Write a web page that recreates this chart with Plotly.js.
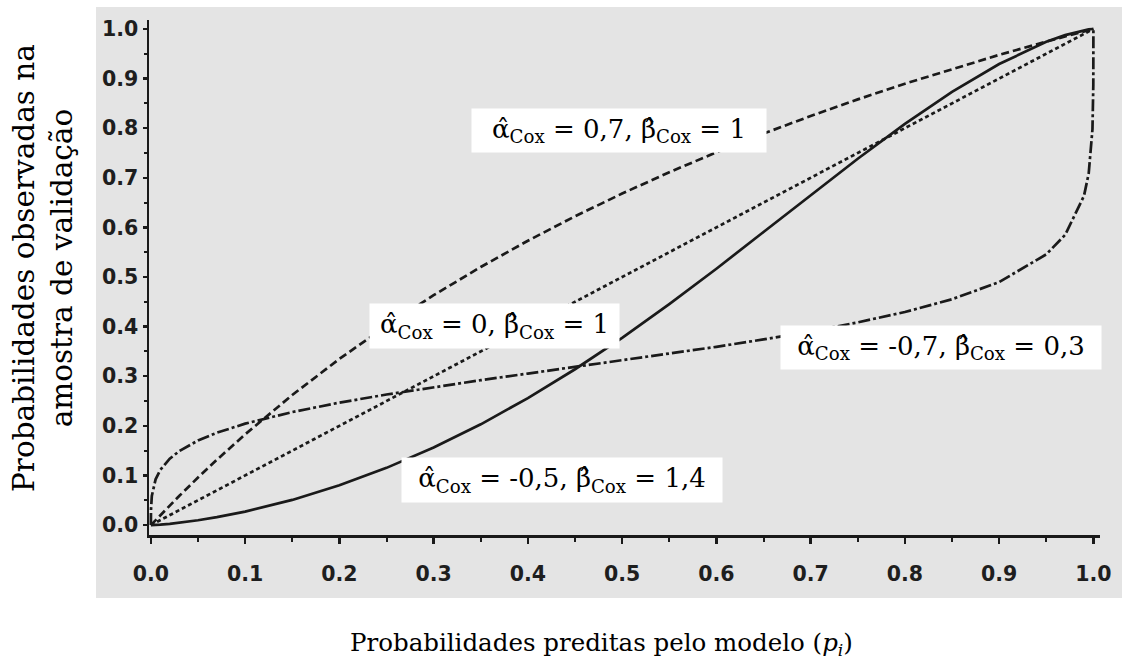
<!DOCTYPE html>
<html>
<head>
<meta charset="utf-8">
<script src="https://cdn.plot.ly/plotly-3.0.1.min.js"></script>
<style>html,body{margin:0;padding:0;background:#fff;}#chart{width:1129px;height:659px;}</style>
</head>
<body>
<div id="chart"></div>
<script>
// Predicted probabilities (x)
const predicted = [0, 0.0001, 0.001, 0.005, 0.01, 0.02, 0.03, 0.05, 0.07, 0.1, 0.15, 0.2, 0.25, 0.3, 0.35, 0.4, 0.45, 0.5, 0.55, 0.6, 0.65, 0.7, 0.75, 0.8, 0.85, 0.9, 0.95, 0.97, 0.99, 0.995, 0.999, 0.9999, 1];
// alpha = 0.7, beta = 1 (dashed)
const obsA = [0, 0.0002, 0.0020, 0.0100, 0.0199, 0.0395, 0.0586, 0.0958, 0.1316, 0.1828, 0.2622, 0.3349, 0.4017, 0.4633, 0.5202, 0.5731, 0.6223, 0.6682, 0.7111, 0.7513, 0.7890, 0.8245, 0.8580, 0.8896, 0.9194, 0.9477, 0.9745, 0.9849, 0.9950, 0.9975, 0.9995, 0.99995, 1];
// alpha = 0, beta = 1 (dotted)
const obsB = [0, 0.0001, 0.001, 0.005, 0.01, 0.02, 0.03, 0.05, 0.07, 0.1, 0.15, 0.2, 0.25, 0.3, 0.35, 0.4, 0.45, 0.5, 0.55, 0.6, 0.65, 0.7, 0.75, 0.8, 0.85, 0.9, 0.95, 0.97, 0.99, 0.995, 0.999, 0.9999, 1];
// alpha = -0.5, beta = 1.4 (solid)
const obsC = [0, 0.0000, 0.00004, 0.0004, 0.0010, 0.0026, 0.0047, 0.0097, 0.0160, 0.0272, 0.0507, 0.0802, 0.1153, 0.1563, 0.2031, 0.2560, 0.3141, 0.3775, 0.4455, 0.5167, 0.5907, 0.6651, 0.7384, 0.8085, 0.8731, 0.9293, 0.9740, 0.9875, 0.9974, 0.9990, 0.9999, 1, 1];
// alpha = -0.7, beta = 0.3 (dash-dot)
const obsD = [0, 0.0304, 0.0589, 0.0922, 0.1112, 0.1338, 0.1490, 0.1704, 0.1861, 0.2044, 0.2278, 0.2468, 0.2631, 0.2780, 0.2920, 0.3054, 0.3186, 0.3318, 0.3453, 0.3593, 0.3742, 0.3903, 0.4085, 0.4294, 0.4552, 0.4898, 0.5457, 0.5849, 0.6634, 0.7084, 0.7977, 0.8873, 1];

const tickVals = [0, 0.1, 0.2, 0.3, 0.4, 0.5, 0.6, 0.7, 0.8, 0.9, 1.0];
const tickText = ["0.0", "0.1", "0.2", "0.3", "0.4", "0.5", "0.6", "0.7", "0.8", "0.9", "1.0"];

const labelA = "α̂<sub>Cox</sub> = 0,7, β̂<sub>Cox</sub> = 1";
const labelB = "α̂<sub>Cox</sub> = 0, β̂<sub>Cox</sub> = 1";
const labelC = "α̂<sub>Cox</sub> = -0,5, β̂<sub>Cox</sub> = 1,4";
const labelD = "α̂<sub>Cox</sub> = -0,7, β̂<sub>Cox</sub> = 0,3";

const ink = "#1a1a1a";
const lw = 2.7;

const traces = [
  {x: predicted, y: obsA, mode: "lines", name: labelA, line: {color: ink, width: lw, dash: "8px,4px"}},
  {x: predicted, y: obsB, mode: "lines", name: labelB, line: {color: ink, width: lw, dash: "4px,3px"}},
  {x: predicted, y: obsC, mode: "lines", name: labelC, line: {color: ink, width: lw}},
  {x: predicted, y: obsD, mode: "lines", name: labelD, line: {color: ink, width: lw, dash: "12px,3px,3px,3px"}}
];

const tickFont = {family: "DejaVu Sans", size: 20.5, weight: "bold", color: "#1e1e1e"};
const serif = "DejaVu Serif";

function boxNote(text, x, y, w, h) {
  return {text: text, x: x, y: y, xref: "x", yref: "y", showarrow: false,
    xanchor: "center", yanchor: "middle", bgcolor: "#ffffff", borderpad: 0,
    width: w, height: h, align: "center", valign: "middle",
    font: {family: serif, size: 26, color: "#000"}};
}

const layout = {
  width: 1129, height: 659,
  margin: {l: 149, r: 29, t: 20, b: 124},
  paper_bgcolor: "#ffffff",
  plot_bgcolor: "rgba(0,0,0,0)",
  showlegend: false,
  xaxis: {
    range: [-0.002, 1.007], showgrid: false, zeroline: false,
    showline: true, linecolor: ink, linewidth: 2.5,
    ticks: "outside", ticklen: 6, tickwidth: 2.5, tickcolor: ink,
    tickvals: tickVals, ticktext: tickText, tickfont: tickFont, ticklabelstandoff: 13,
    minor: {dtick: 0.05, tick0: 0, ticks: "outside", ticklen: 4, tickwidth: 2, tickcolor: ink, showgrid: false},
    fixedrange: true
  },
  yaxis: {
    range: [-0.02, 1.018], showgrid: false, zeroline: false,
    showline: true, linecolor: ink, linewidth: 2.5,
    ticks: "outside", ticklen: 4, tickwidth: 2.5, tickcolor: ink,
    tickvals: tickVals, ticktext: tickText, tickfont: tickFont,
    minor: {dtick: 0.05, tick0: 0, ticks: "outside", ticklen: 3, tickwidth: 2, tickcolor: ink, showgrid: false},
    fixedrange: true
  },
  shapes: [
    {type: "rect", xref: "paper", yref: "paper", x0: -0.0557, x1: 1.0231, y0: -0.1223, y1: 1.0252,
     fillcolor: "#e4e4e4", line: {width: 0}, layer: "below"}
  ],
  annotations: [
    boxNote(labelA, 0.4968, 0.7954, 294, 43),
    boxNote(labelB, 0.3646, 0.4012, 249, 44),
    boxNote(labelC, 0.4363, 0.0907, 320, 44),
    boxNote(labelD, 0.8386, 0.3579, 320, 43),
    {text: "Probabilidades preditas pelo modelo (<i>p<sub>i</sub></i>)", xref: "paper", yref: "paper",
     x: 0.4763, y: -0.2117, xanchor: "center", yanchor: "middle", showarrow: false,
     font: {family: serif, size: 24.5, color: "#000"}},
    {text: "Probabilidades observadas na<br>amostra de validação", xref: "paper", yref: "paper",
     x: -0.1115, y: 0.5184, xanchor: "center", yanchor: "middle", showarrow: false, textangle: -90,
     font: {family: serif, size: 29.5, color: "#000"}}
  ]
};

Plotly.newPlot("chart", traces, layout, {displayModeBar: false, staticPlot: true});
</script>
</body>
</html>
